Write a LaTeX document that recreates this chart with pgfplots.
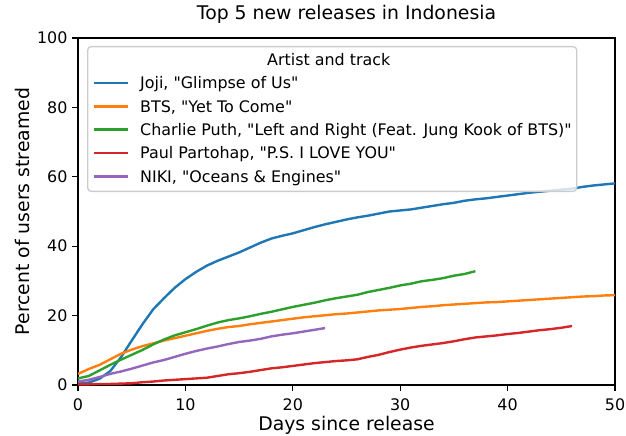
\documentclass[border=0pt]{standalone}
\usepackage{fontspec}
\setmainfont[Ligatures=TeXOff]{DejaVu Sans}
\usepackage{pgfplots}
\pgfplotsset{compat=1.18}
\usetikzlibrary{calc}

\definecolor{tabblue}{HTML}{1F77B4}
\definecolor{taborange}{HTML}{FF7F0E}
\definecolor{tabgreen}{HTML}{2CA02C}
\definecolor{tabred}{HTML}{D62728}
\definecolor{tabpurple}{HTML}{9467BD}

\newcommand{\smallfont}{\fontsize{11.5}{13.8}\selectfont}
\newcommand{\bigfont}{\fontsize{13.6}{16.3}\selectfont}

\begin{document}
\begin{tikzpicture}
\begin{axis}[
  scale only axis,
  width=386.64bp, height=249.84bp,
  xmin=0, xmax=50, ymin=0, ymax=100,
  xtick={0,10,...,50}, ytick={0,20,...,100},
  xtick pos=lower, ytick pos=left,
  tick align=outside,
  major tick length=4bp,
  every tick/.style={black, line width=0.92bp},
  axis line style={line width=0.92bp},
  /pgf/number format/assume math mode=true,
  tick label style={font=\smallfont},
  xticklabel style={anchor=north, inner sep=0pt, yshift=-5.4bp},
  yticklabel style={anchor=east, inner sep=0pt, xshift=-3.4bp},
  title={Top 5 new releases in Indonesia},
  title style={font=\bigfont, at={(axis description cs:0.5,1.0288)}, anchor=base, inner sep=0pt},
  xlabel={Days since release},
  xlabel style={font=\bigfont, at={(axis description cs:0.5,-0.0889)}, anchor=north, inner sep=0pt},
  ylabel={Percent of users streamed},
  ylabel style={font=\bigfont, at={(axis description cs:-0.0895,0.5)}, anchor=base, inner sep=0pt},
  every axis plot/.append style={line width=1.73bp, line join=round},
  legend image code/.code={\draw[#1, line cap=butt] (0bp,4.2bp) -- (24.5bp,4.2bp);},
  legend style={
    at={(axis description cs:0,1)}, anchor=north west,
    xshift=6.5bp, yshift=-5.76bp,
    draw=black!20, line width=0.92bp, rounded corners=2.5bp,
    fill=white, fill opacity=0.8, text opacity=1,
    inner xsep=3.6bp, inner ysep=1.7bp,
    row sep=0pt, column sep=0pt,
    font=\smallfont,
    nodes={inner sep=0pt, text height=11.9bp, text depth=4.9bp, anchor=base west},
  },
  legend cell align=left,
  legend columns=1,
]
\addlegendimage{empty legend}
\addlegendentry{\hspace*{-8bp}\makebox[0pt][l]{\hspace*{-24.5bp}\makebox[343.5bp][c]{Artist and track}}}

% Joji
\addplot[color=tabblue] coordinates {
(0,0.5) (1,0.7) (2,1.8) (3,4.0) (4,8.0) (5,12.8) (6,17.5) (7,21.8) (8,25.0) (9,28.0)
(10,30.5) (11,32.6) (12,34.4) (13,35.8) (14,37.0) (15,38.2) (16,39.6) (17,41.0) (18,42.2) (19,43.0)
(20,43.7) (21,44.6) (22,45.5) (23,46.3) (24,47.0) (25,47.7) (26,48.3) (27,48.8) (28,49.4) (29,50.0)
(30,50.3) (31,50.6) (32,51.1) (33,51.6) (34,52.1) (35,52.5) (36,53.1) (37,53.5) (38,53.8) (39,54.2)
(40,54.6) (41,55.0) (42,55.4) (43,55.7) (44,56.0) (45,56.3) (46,56.6) (47,57.1) (48,57.5) (49,57.8)
(50,58.1)
};
\addlegendentry{\hspace*{8bp}Joji, "Glimpse of Us"}

% BTS
\addplot[color=taborange] coordinates {
(0,3.2) (1,4.6) (2,5.8) (3,7.4) (4,9.0) (5,10.2) (6,11.2) (7,12.0) (8,12.8) (9,13.5)
(10,14.2) (11,14.9) (12,15.6) (13,16.2) (14,16.7) (15,17.0) (16,17.5) (17,17.9) (18,18.3) (19,18.7)
(20,19.1) (21,19.5) (22,19.8) (23,20.1) (24,20.4) (25,20.6) (26,20.9) (27,21.2) (28,21.5) (29,21.7)
(30,21.9) (31,22.2) (32,22.5) (33,22.7) (34,23.0) (35,23.2) (36,23.4) (37,23.6) (38,23.8) (39,23.9)
(40,24.1) (41,24.3) (42,24.5) (43,24.7) (44,24.9) (45,25.1) (46,25.3) (47,25.5) (48,25.6) (49,25.8)
(50,25.9)
};
\addlegendentry{\hspace*{8bp}BTS, "Yet To Come"}

% Charlie Puth
\addplot[color=tabgreen] coordinates {
(0,1.9) (1,2.6) (2,4.2) (3,5.8) (4,7.3) (5,8.7) (6,10.1) (7,11.7) (8,13.1) (9,14.3)
(10,15.2) (11,16.1) (12,17.1) (13,18.0) (14,18.7) (15,19.2) (16,19.8) (17,20.5) (18,21.1) (19,21.8)
(20,22.5) (21,23.1) (22,23.7) (23,24.4) (24,25.0) (25,25.5) (26,26.0) (27,26.8) (28,27.4) (29,28.0)
(30,28.7) (31,29.2) (32,29.9) (33,30.3) (34,30.8) (35,31.5) (36,32.0) (37,32.8)
};
\addlegendentry{\hspace*{8bp}Charlie Puth, "Left and Right (Feat. Jung Kook of BTS)"}

% Paul Partohap
\addplot[color=tabred] coordinates {
(0,0.2) (1,0.2) (2,0.3) (3,0.3) (4,0.4) (5,0.5) (6,0.8) (7,1.0) (8,1.3) (9,1.5)
(10,1.7) (11,1.9) (12,2.1) (13,2.6) (14,3.1) (15,3.4) (16,3.8) (17,4.3) (18,4.8) (19,5.1)
(20,5.5) (21,5.9) (22,6.3) (23,6.6) (24,6.9) (25,7.1) (26,7.4) (27,8.1) (28,8.7) (29,9.5)
(30,10.2) (31,10.8) (32,11.3) (33,11.7) (34,12.1) (35,12.6) (36,13.2) (37,13.7) (38,14.0) (39,14.3)
(40,14.7) (41,15.0) (42,15.4) (43,15.8) (44,16.1) (45,16.5) (46,17.0)
};
\addlegendentry{\hspace*{8bp}Paul Partohap, "P.S. I LOVE YOU"}

% NIKI
\addplot[color=tabpurple] coordinates {
(0,1.0) (1,1.5) (2,2.3) (3,3.2) (4,3.9) (5,4.7) (6,5.6) (7,6.5) (8,7.2) (9,8.1)
(10,9.0) (11,9.8) (12,10.5) (13,11.1) (14,11.8) (15,12.4) (16,12.8) (17,13.3) (18,14.0) (19,14.5)
(20,14.9) (21,15.4) (22,15.9) (23,16.4)
};
\addlegendentry{\hspace*{8bp}NIKI, "Oceans \& Engines"}

\coordinate (sw) at (rel axis cs:0,0);
\coordinate (ne) at (rel axis cs:1,1);
\end{axis}
\pgfresetboundingbox
\path[use as bounding box] ($(sw)+(-56.16bp,-36bp)$) rectangle ($(ne)+(7.92bp,27.36bp)$);
\end{tikzpicture}
\end{document}
